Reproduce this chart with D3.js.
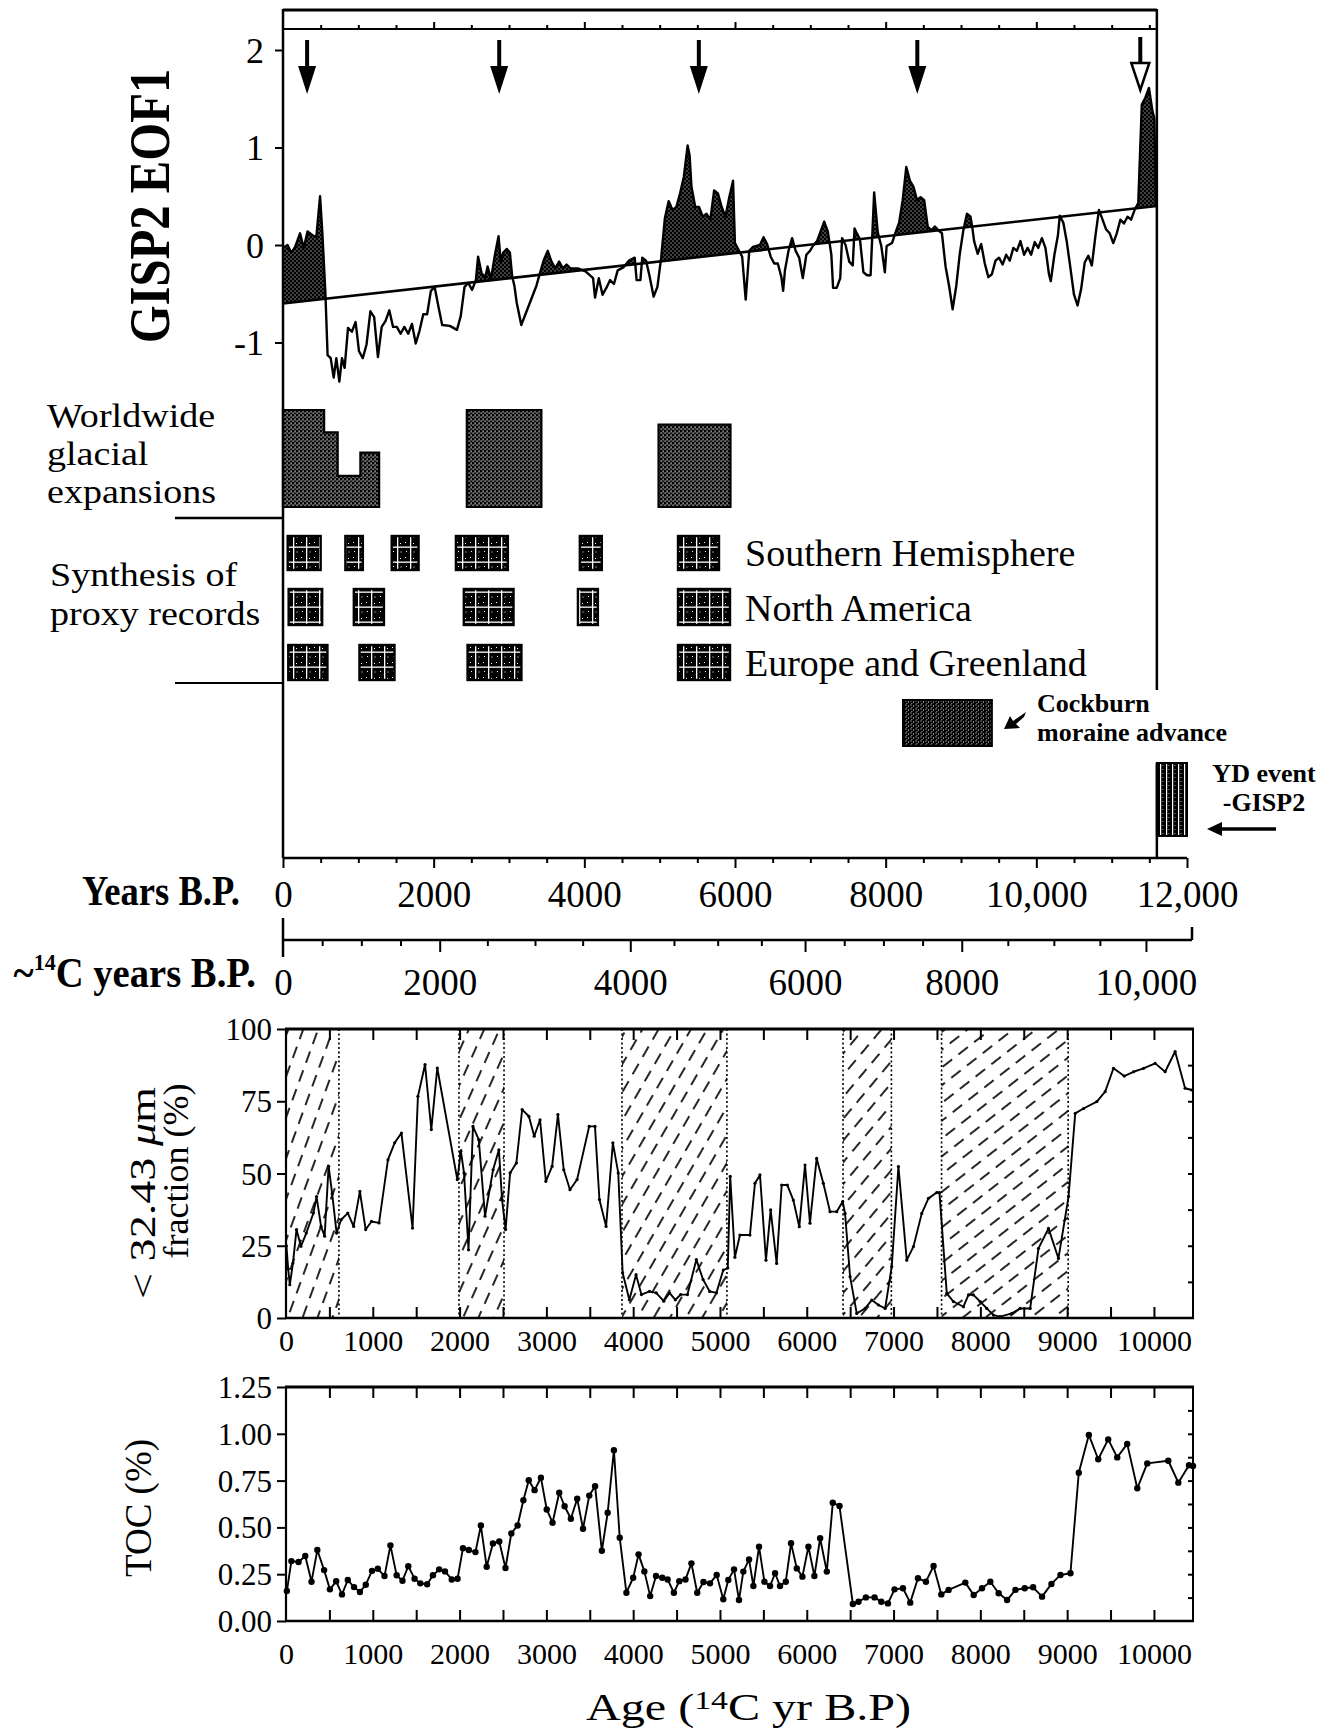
<!DOCTYPE html>
<html>
<head>
<meta charset="utf-8">
<script src="https://cdn.jsdelivr.net/npm/d3@7"></script>
<style>
  body { margin: 0; background: #fff; }
  svg { display: block; }
</style>
</head>
<body>
<svg id="chart" width="1336" height="1728"></svg>
<script>
// ---------------- data ----------------
// GISP2 EOF1 record: [calendar years B.P., EOF1 value]
const eof1Series = [
  [0,-0.03],[60,0.00],[110,-0.08],[161,-0.02],[226,0.12],[276,-0.03],[326,0.14],[392,0.10],[442,0.08],[492,0.50],
  [522,0.13],[562,-0.48],[592,-1.13],[633,-1.16],[673,-1.36],[708,-1.16],[748,-1.40],[783,-1.16],[818,-1.26],[863,-0.85],
  [914,-0.89],[964,-0.79],[1009,-1.09],[1059,-1.16],[1109,-1.02],[1160,-0.68],[1210,-0.74],[1260,-1.15],[1310,-0.84],[1360,-0.78],
  [1411,-0.67],[1461,-0.84],[1511,-0.84],[1561,-0.91],[1611,-0.84],[1662,-0.91],[1712,-0.81],[1762,-1.01],[1812,-0.88],[1862,-0.71],
  [1913,-0.71],[1963,-0.47],[2013,-0.43],[2063,-0.63],[2113,-0.82],[2214,-0.83],[2309,-0.87],[2359,-0.73],[2410,-0.43],[2460,-0.39],
  [2510,-0.46],[2560,-0.36],[2590,-0.12],[2636,-0.29],[2686,-0.33],[2716,-0.22],[2761,-0.35],[2811,-0.11],[2861,0.09],[2892,-0.18],
  [2922,-0.08],[2972,-0.04],[3012,-0.08],[3042,-0.32],[3072,-0.42],[3102,-0.59],[3163,-0.82],[3213,-0.72],[3263,-0.62],[3313,-0.52],
  [3363,-0.42],[3414,-0.28],[3464,-0.15],[3514,-0.06],[3564,-0.17],[3614,-0.24],[3665,-0.17],[3715,-0.24],[3765,-0.20],[3815,-0.24],
  [3916,-0.24],[4016,-0.27],[4116,-0.34],[4142,-0.54],[4192,-0.34],[4242,-0.51],[4292,-0.44],[4342,-0.36],[4393,-0.40],[4443,-0.26],
  [4518,-0.23],[4593,-0.16],[4669,-0.13],[4694,-0.36],[4744,-0.36],[4769,-0.13],[4819,-0.16],[4869,-0.33],[4920,-0.53],[4970,-0.43],
  [5020,-0.13],[5070,0.28],[5120,0.45],[5171,0.36],[5221,0.39],[5271,0.53],[5321,0.70],[5371,1.02],[5397,0.92],[5422,0.60],
  [5472,0.39],[5522,0.39],[5572,0.29],[5622,0.32],[5673,0.26],[5723,0.56],[5773,0.53],[5823,0.39],[5873,0.29],[5924,0.49],
  [5974,0.66],[5999,0.02],[6047,-0.05],[6095,-0.12],[6142,-0.56],[6189,-0.06],[6237,-0.02],[6331,0.00],[6379,0.08],[6426,0.01],
  [6474,-0.12],[6521,-0.19],[6568,-0.19],[6616,-0.33],[6639,-0.47],[6663,-0.26],[6710,-0.06],[6758,0.07],[6805,-0.06],[6852,-0.13],
  [6900,-0.34],[6947,-0.10],[6995,-0.06],[7042,0.00],[7089,0.04],[7137,0.14],[7184,0.24],[7232,0.14],[7279,-0.10],[7302,-0.44],
  [7350,-0.44],[7397,-0.34],[7421,0.07],[7468,0.00],[7516,-0.17],[7563,-0.21],[7587,0.17],[7610,0.13],[7658,0.06],[7705,-0.28],
  [7753,-0.31],[7800,-0.31],[7847,0.54],[7895,0.13],[7942,-0.01],[7989,-0.28],[8013,-0.01],[8084,0.02],[8131,0.13],[8179,0.23],
  [8226,0.46],[8274,0.80],[8321,0.66],[8368,0.60],[8416,0.46],[8463,0.49],[8511,0.46],[8558,0.19],[8605,0.15],[8653,0.19],
  [8700,0.15],[8747,0.12],[8795,-0.22],[8842,-0.42],[8889,-0.66],[8937,-0.42],[8984,-0.09],[9031,0.15],[9079,0.32],[9126,0.29],
  [9150,0.18],[9174,0.04],[9221,-0.09],[9268,0.01],[9316,-0.19],[9363,-0.33],[9410,-0.30],[9458,-0.16],[9505,-0.13],[9552,-0.20],
  [9600,-0.10],[9647,-0.16],[9695,-0.03],[9742,-0.06],[9789,0.04],[9837,-0.10],[9884,-0.03],[9931,-0.10],[9979,0.03],[10026,-0.03],
  [10074,0.07],[10121,-0.03],[10168,-0.30],[10192,-0.37],[10240,-0.10],[10287,0.10],[10311,0.30],[10358,0.23],[10405,0.03],[10453,-0.24],
  [10500,-0.51],[10547,-0.62],[10595,-0.45],[10642,-0.18],[10690,-0.11],[10737,-0.21],[10784,0.09],[10831,0.36],[10879,0.26],[10926,0.16],
  [10974,0.12],[11021,0.02],[11068,0.12],[11116,0.26],[11163,0.22],[11211,0.29],[11258,0.26],[11305,0.36],[11353,0.43],[11400,1.44],
  [11447,1.51],[11495,1.61],[11542,1.37],[11566,1.30],[11590,0.39]
];
// linear trend of EOF1: [year, value] at both ends
const trendEnds = [[0, -0.60], [11600, 0.40]];
const eofTicks = [-1, 0, 1, 2];

// event markers (calendar years B.P.)
const coolingArrowYears = [320, 2870, 5520, 8420];
const ydArrowYears = [11380];

// worldwide glacial expansions: [start, end, relative extent]
const glacialExpansions = [
  [0, 546, 1.00], [546, 726, 0.77], [726, 1027, 0.32], [1027, 1276, 0.56],
  [2440, 3430, 1.00],
  [4985, 5940, 0.85]
];
// synthesis of proxy records: [start, end] in calendar years B.P.
const southernHemisphere = [[62, 500], [828, 1060], [1443, 1800], [2295, 2985], [3940, 4232]];
const northAmerica = [[75, 520], [940, 1340], [2400, 3060], [3915, 4180]];
const europeGreenland = [[70, 590], [1015, 1480], [2450, 3165]];
const proxyNames = ["Southern Hemisphere", "North America", "Europe and Greenland"];
const cockburnAdvance = [8230, 9410];
const ydEventGisp2 = [11600, 12000];

// time axes
const calLabels = [0, 2000, 4000, 6000, 8000, 10000, 12000];
const c14Labels = [0, 2000, 4000, 6000, 8000, 10000];
const c14CalYears = [0, 2080, 4610, 6930, 9010, 11455];

// sediment records (14C yr B.P.)
const siltPeriods = [[0, 610], [1993, 2512], [3871, 5080], [6418, 6975], [7553, 9012]];
const fineFraction = [
  [5,25],[25,17],[44,11.5],[80,19],[121,30.6],[172,24.8],[234,29.4],[316,36.3],[352,42],[404,31.7],
  [445,28.3],[491,52.5],[532,43],[583,29.4],[635,34],[712,36.3],[779,31.7],[851,43.8],[918,30.6],[985,33.4],
  [1072,32.9],[1175,54.8],[1252,60.6],[1330,64],[1458,31.1],[1520,76.7],[1602,87.7],[1674,65.2],[1743,86.5],[1974,47.9],
  [2015,57.7],[2051,50.2],[2103,23.6],[2154,66.3],[2221,61.7],[2293,35.2],[2386,51.3],[2453,58.2],[2489,41],[2530,30.6],
  [2582,50.2],[2654,53.6],[2721,72.1],[2798,69.8],[2860,62.9],[2927,68.6],[2994,47.3],[3066,52.5],[3133,70.4],[3200,51.3],
  [3272,44.4],[3354,47.9],[3493,66.3],[3560,66.3],[3611,41],[3688,31.7],[3766,60.6],[3828,50.2],[3879,15.6],[3956,6.3],
  [4033,15],[4095,8.1],[4188,9.2],[4265,8.7],[4352,5.8],[4419,8.7],[4486,6.3],[4547,8.1],[4625,8.1],[4728,20.2],
  [4805,13.3],[4882,9.2],[4959,8.7],[5038,16.6],[5090,17.3],[5118,49],[5172,21],[5230,28.7],[5345,28.7],[5403,46.6],
  [5461,49.5],[5530,20],[5584,37.4],[5653,18.9],[5711,46],[5776,46],[5845,40.8],[5914,31.6],[5980,52.9],[6037,32.8],
  [6114,55.2],[6191,46.6],[6268,36.8],[6345,36.8],[6414,40.3],[6441,36.2],[6499,14.3],[6576,1.6],[6672,3.3],[6749,6.2],
  [6826,4.5],[6903,3.3],[6979,17.8],[7056,52.4],[7152,20],[7229,24.7],[7325,36.2],[7402,41.4],[7498,43.4],[7529,43.4],
  [7613,8.5],[7690,5.7],[7805,3.9],[7863,8],[7920,8],[7997,5.7],[8074,3.3],[8151,1],[8228,0.5],[8363,1.6],
  [8459,3.3],[8574,3.3],[8670,24.1],[8785,31],[8900,20.6],[9016,42],[9093,70.8],[9189,72.5],[9342,74.9],[9438,78.3],
  [9534,86.4],[9657,83.7],[9765,85.2],[9880,86.4],[10014,88.1],[10129,85.2],[10244,92.2],[10359,79.5],[10436,78.9]
];
const tocSeries = [
  [10,0.16],[62,0.32],[145,0.315],[222,0.347],[294,0.21],[361,0.379],[439,0.272],[506,0.169],[578,0.212],[645,0.142],
  [712,0.219],[784,0.181],[852,0.155],[919,0.194],[991,0.268],[1058,0.279],[1135,0.24],[1203,0.404],[1275,0.244],[1342,0.215],
  [1409,0.293],[1481,0.226],[1548,0.201],[1626,0.196],[1693,0.244],[1765,0.276],[1832,0.265],[1910,0.222],[1977,0.226],[2039,0.389],
  [2106,0.379],[2183,0.368],[2245,0.51],[2312,0.29],[2384,0.414],[2457,0.425],[2529,0.283],[2596,0.468],[2668,0.51],[2735,0.645],
  [2797,0.752],[2864,0.699],[2937,0.765],[3004,0.596],[3071,0.525],[3148,0.685],[3210,0.613],[3282,0.546],[3355,0.653],[3422,0.493],
  [3494,0.67],[3561,0.72],[3639,0.375],[3706,0.578],[3778,0.912],[3845,0.445],[3922,0.151],[4000,0.231],[4062,0.356],[4129,0.265],
  [4196,0.133],[4263,0.24],[4335,0.231],[4397,0.222],[4469,0.151],[4531,0.213],[4603,0.222],[4671,0.308],[4738,0.151],[4810,0.208],
  [4885,0.201],[4962,0.246],[5038,0.116],[5096,0.219],[5162,0.276],[5219,0.112],[5269,0.264],[5335,0.329],[5385,0.187],[5450,0.397],
  [5512,0.21],[5577,0.187],[5635,0.255],[5692,0.187],[5758,0.21],[5819,0.415],[5885,0.281],[5950,0.237],[6019,0.397],[6088,0.24],
  [6154,0.442],[6231,0.264],[6300,0.632],[6377,0.614],[6531,0.091],[6596,0.103],[6681,0.126],[6781,0.126],[6858,0.103],[6935,0.094],
  [7011,0.169],[7108,0.175],[7192,0.098],[7281,0.228],[7373,0.21],[7461,0.294],[7550,0.142],[7634,0.166],[7827,0.205],[7923,0.139],
  [8019,0.175],[8115,0.21],[8211,0.148],[8308,0.112],[8404,0.166],[8511,0.175],[8608,0.18],[8711,0.13],[8819,0.198],[8923,0.246],
  [9038,0.255],[9134,0.792],[9250,0.994],[9358,0.864],[9473,0.97],[9577,0.874],[9692,0.946],[9808,0.709],[9923,0.842],[10165,0.856],
  [10281,0.739],[10404,0.832],[10450,0.828]
];
const fracTicks = [0, 25, 50, 75, 100];
const tocTicks = [0, 0.25, 0.5, 0.75, 1.0, 1.25];
const ageLabels = [0, 1000, 2000, 3000, 4000, 5000, 6000, 7000, 8000, 9000, 10000];

// ---------------- drawing ----------------
const SERIF = "'Liberation Serif','Times New Roman',Times,serif";
const svg = d3.select("#chart");
svg.append("rect").attr("width", 1336).attr("height", 1728).attr("fill", "#fff");

const xCal = d3.scaleLinear().domain([0, 12000]).range([283, 1187]);
const yEof = d3.scaleLinear().domain([-1, 2]).range([342.5, 50]);
const xC14 = d3.scaleLinear().domain(c14Labels).range(c14CalYears.map(xCal));
const xAge = d3.scaleLinear().domain([0, 10450]).range([286, 1193]);
const yFrac = d3.scaleLinear().domain([0, 100]).range([1318, 1029]);
const yToc = d3.scaleLinear().domain([0, 1.25]).range([1621, 1387]);
const trend = d3.scaleLinear().domain(trendEnds.map(d => d[0])).range(trendEnds.map(d => d[1]));

// fill patterns
const defs = svg.append("defs");
function tile(id, w, h, marks) {
  const p = defs.append("pattern").attr("id", id).attr("patternUnits", "userSpaceOnUse")
    .attr("width", w).attr("height", h);
  p.append("rect").attr("width", w).attr("height", h).attr("fill", "#000");
  marks.forEach(([x, y, mw, mh]) => p.append("rect").attr("x", x).attr("y", y)
    .attr("width", mw).attr("height", mh).attr("fill", "#fff"));
}
tile("stipple", 4, 4, [[0.5, 0.5, 1, 1], [2.5, 2.5, 1, 1]]);
tile("glacial", 4, 4, [[0.5, 0.5, 1.2, 1.2], [2.5, 2.5, 1.2, 1.2], [2.6, 0.4, 0.8, 0.8]]);
tile("proxy", 13, 15, [[0, 6.5, 13, 1.3], [7, 0, 1.3, 15], [2, 2, 1, 1], [3, 11, 1, 1], [10, 3, 1, 1], [10.5, 11.5, 1, 1]]);
tile("cockburn", 5, 4, [[0.5, 0.5, 1, 1], [3, 1.5, 1, 1], [1.5, 3, 0.8, 0.8]]);
tile("ydStripes", 6, 4, [[2, 0, 1.2, 4], [4.5, 1, 0.8, 0.8]]);

function line(g, x1, y1, x2, y2, w, extra) {
  const l = g.append("line").attr("x1", x1).attr("y1", y1).attr("x2", x2).attr("y2", y2)
    .attr("stroke", "#000").attr("stroke-width", w);
  if (extra) extra(l);
  return l;
}
function styleAxis(g, size) {
  g.attr("font-family", SERIF).attr("font-size", size);
  g.select(".domain").remove();
  g.selectAll(".tick line").attr("stroke", "#000").attr("stroke-width", 2);
  g.selectAll(".tick text").attr("fill", "#000");
  return g;
}
function txt(g, x, y, s, size, opts = {}) {
  return g.append("text").attr("x", x).attr("y", y).text(s)
    .attr("font-family", SERIF).attr("font-size", size)
    .attr("font-weight", opts.bold ? "bold" : null)
    .attr("text-anchor", opts.anchor || "start").attr("fill", "#000");
}
// text drawn with a horizontal stretch
function wideTxt(g, x, y, s, size, sx) {
  return g.append("g").attr("transform", `translate(${x},${y}) scale(${sx},1)`)
    .append("text").text(s).attr("font-family", SERIF).attr("font-size", size).attr("fill", "#000");
}

// ===== upper panel: GISP2 EOF1 =====
const upper = svg.append("g");

// insert trend crossings so the shaded area follows the curve exactly
function withCrossings(series) {
  const out = [];
  series.forEach((p, i) => {
    if (i > 0) {
      const q = series[i - 1];
      const d0 = q[1] - trend(q[0]), d1 = p[1] - trend(p[0]);
      if (d0 * d1 < 0) {
        const t = d0 / (d0 - d1);
        const xc = q[0] + t * (p[0] - q[0]);
        out.push([xc, trend(xc)]);
      }
    }
    out.push(p);
  });
  return out;
}
const eofDense = withCrossings(eof1Series);
const aboveTrend = d3.area()
  .x(d => xCal(d[0]))
  .y0(d => yEof(trend(d[0])))
  .y1(d => yEof(Math.max(d[1], trend(d[0]))));
upper.append("path").datum(eofDense).attr("d", aboveTrend).attr("fill", "url(#stipple)");

upper.append("path").datum(trendEnds)
  .attr("d", d3.line().x(d => xCal(d[0])).y(d => yEof(d[1])))
  .attr("fill", "none").attr("stroke", "#000").attr("stroke-width", 2.6);
upper.append("path").datum(eof1Series)
  .attr("d", d3.line().x(d => xCal(d[0])).y(d => yEof(d[1])))
  .attr("fill", "none").attr("stroke", "#000").attr("stroke-width", 2.4).attr("stroke-linejoin", "round");

// frame
const xRight = xCal(ydEventGisp2[0]);
line(upper, 283, 10, xRight, 10, 3);
line(upper, 283, 29, xRight, 29, 2);
line(upper, 283, 9, 283, 858, 2.5);
line(upper, xRight, 9, xRight, 690, 2.5);

// ticks on the upper strip
const topStrip = upper.append("g").attr("transform", "translate(0,29)");
topStrip.call(d3.axisTop(xCal).tickValues(d3.range(500, 11600, 500).filter(d => d % 2000)).tickSize(4).tickFormat(""));
styleAxis(topStrip, 10);
const topStrip2 = upper.append("g").attr("transform", "translate(0,29)");
topStrip2.call(d3.axisTop(xCal).tickValues(d3.range(2000, 11600, 2000)).tickSize(7).tickFormat(""));
styleAxis(topStrip2, 10);

// y axis
const yAx = upper.append("g").attr("transform", "translate(283,0)")
  .call(d3.axisLeft(yEof).tickValues(eofTicks).tickSize(8).tickPadding(11).tickFormat(d => String(d)));
styleAxis(yAx, 36);
yAx.selectAll(".tick text").attr("dy", "0.34em");

upper.append("g").attr("transform", "translate(169,206) rotate(-90) scale(0.87,1)")
  .append("text").text("GISP2 EOF1").attr("text-anchor", "middle")
  .attr("font-family", SERIF).attr("font-size", 56).attr("font-weight", "bold").attr("fill", "#000");

// arrows marking cooling events
coolingArrowYears.forEach(yr => {
  const x = xCal(yr);
  line(upper, x, 40, x, 70, 4);
  upper.append("path").attr("d", `M${x - 9},66 L${x + 9},66 L${x},94 Z`).attr("fill", "#000");
});
ydArrowYears.forEach(yr => {
  const x = xCal(yr);
  line(upper, x, 37, x, 63, 4);
  upper.append("path").attr("d", `M${x - 9},63 L${x + 9},63 L${x},90 Z`)
    .attr("fill", "#fff").attr("stroke", "#000").attr("stroke-width", 2.5);
});

// ===== glacial expansions =====
const glacialBottom = 507, glacialHeight = 97;
const glacialBlocks = [];
glacialExpansions.forEach(s => {
  const last = glacialBlocks[glacialBlocks.length - 1];
  if (last && last[last.length - 1][1] === s[0]) last.push(s); else glacialBlocks.push([s]);
});
glacialBlocks.forEach(block => {
  let d = `M${xCal(block[0][0])},${glacialBottom}`;
  block.forEach(s => {
    const yt = glacialBottom - glacialHeight * s[2];
    d += ` L${xCal(s[0])},${yt} L${xCal(s[1])},${yt}`;
  });
  d += ` L${xCal(block[block.length - 1][1])},${glacialBottom} Z`;
  upper.append("path").attr("d", d).attr("fill", "url(#glacial)").attr("stroke", "#000").attr("stroke-width", 2.2);
});

["Worldwide", "glacial", "expansions"].forEach((s, i) => wideTxt(upper, 47, [427, 465, 503][i], s, 34, 1.12));
line(upper, 175, 518, 283, 518, 2.5);
["Synthesis of", "proxy records"].forEach((s, i) => wideTxt(upper, 50, [586, 625][i], s, 34, 1.12));
line(upper, 175, 683, 283, 683, 2);

// ===== proxy records =====
const proxyRows = [southernHemisphere, northAmerica, europeGreenland];
const rowTop = [536, 589, 645], rowBottom = [570, 625, 680], swatchW = [41, 52, 52];
proxyRows.forEach((spans, r) => {
  spans.forEach(([a, b]) => {
    upper.append("rect").attr("x", xCal(a)).attr("y", rowTop[r])
      .attr("width", xCal(b) - xCal(a)).attr("height", rowBottom[r] - rowTop[r])
      .attr("fill", "url(#proxy)").attr("stroke", "#000").attr("stroke-width", 2.4);
  });
  upper.append("rect").attr("x", 678).attr("y", rowTop[r]).attr("width", swatchW[r])
    .attr("height", rowBottom[r] - rowTop[r])
    .attr("fill", "url(#proxy)").attr("stroke", "#000").attr("stroke-width", 2.4);
  txt(upper, 745, rowBottom[r] - 4, proxyNames[r], 38);
});

// Cockburn moraine advance
upper.append("rect").attr("x", xCal(cockburnAdvance[0])).attr("y", 700)
  .attr("width", xCal(cockburnAdvance[1]) - xCal(cockburnAdvance[0])).attr("height", 46)
  .attr("fill", "url(#cockburn)").attr("stroke", "#000").attr("stroke-width", 2);
upper.append("path").attr("d", "M1004,729 L1010,716 L1013,721 L1026,712 L1024,717 L1016,724 L1020,728 Z").attr("fill", "#000");
txt(upper, 1037, 712, "Cockburn", 26, { bold: true });
txt(upper, 1037, 741, "moraine advance", 26, { bold: true });

// Younger Dryas (GISP2)
const ydX0 = xCal(ydEventGisp2[0]), ydX1 = xCal(ydEventGisp2[1]);
upper.append("rect").attr("x", ydX0).attr("y", 763).attr("width", ydX1 - ydX0).attr("height", 73)
  .attr("fill", "url(#ydStripes)").attr("stroke", "#000").attr("stroke-width", 2);
line(upper, ydX0, 763, ydX0, 858, 2.5);
txt(upper, 1264, 782, "YD event", 26, { bold: true, anchor: "middle" });
txt(upper, 1264, 811, "-GISP2", 26, { bold: true, anchor: "middle" });
line(upper, 1218, 829, 1276, 829, 3.5);
upper.append("path").attr("d", "M1207,829 L1222,822 L1222,836 Z").attr("fill", "#000");

// ===== calendar axis =====
line(upper, 283, 858, xCal(12000), 858, 2.5);
const calMinor = upper.append("g").attr("transform", "translate(0,858)")
  .call(d3.axisBottom(xCal).tickValues(d3.range(500, 12000, 500).filter(d => d % 2000)).tickSize(5).tickFormat(""));
styleAxis(calMinor, 10);
const calMajor = upper.append("g").attr("transform", "translate(0,858)")
  .call(d3.axisBottom(xCal).tickValues(calLabels).tickSize(10).tickPadding(13)
    .tickFormat(d => d >= 10000 ? d3.format(",")(d) : String(d)));
styleAxis(calMajor, 37);
upper.append("g").attr("transform", "translate(240,905) scale(0.87,1)")
  .append("text").text("Years B.P.").attr("text-anchor", "end")
  .attr("font-family", SERIF).attr("font-size", 42).attr("font-weight", "bold").attr("fill", "#000");

// ===== radiocarbon axis =====
const c14Y = 940;
line(upper, 283, c14Y, xCal(12000) + 5, c14Y, 2.5);
line(upper, 283, 918, 283, 957, 2.5);
line(upper, xCal(12000) + 5, 927, xCal(12000) + 5, c14Y, 2.5);
const c14Minor = upper.append("g").attr("transform", `translate(0,${c14Y})`)
  .call(d3.axisBottom(xC14).tickValues(d3.range(500, 10000, 500).filter(d => d % 2000)).tickSize(6).tickFormat(""));
styleAxis(c14Minor, 10);
const c14Major = upper.append("g").attr("transform", `translate(0,${c14Y})`)
  .call(d3.axisBottom(xC14).tickValues(c14Labels).tickSize(12).tickPadding(17)
    .tickFormat(d => d >= 10000 ? d3.format(",")(d) : String(d)));
styleAxis(c14Major, 37);
c14Major.select(".tick line").remove();
const c14Title = upper.append("g").attr("transform", "translate(256,987) scale(0.92,1)")
  .append("text").attr("text-anchor", "end")
  .attr("font-family", SERIF).attr("font-size", 42).attr("font-weight", "bold").attr("fill", "#000");
c14Title.append("tspan").text("~");
c14Title.append("tspan").text("14").attr("font-size", 24).attr("dy", -17);
c14Title.append("tspan").text("C years B.P.").attr("dy", 17);

// ===== lower panels =====
function panelFrame(g, yScale, yTickVals, fmt, minorStep) {
  const [y0, y1] = yScale.range();
  const xl = xAge.range()[0], xr = xAge.range()[1];
  // inward ticks along top and bottom
  const tv = d3.range(500, 10450, 500);
  const tb = g.append("g").attr("transform", `translate(0,${y0})`)
    .call(d3.axisBottom(xAge).tickValues(tv).tickSize(-11).tickFormat(""));
  styleAxis(tb, 10);
  const tt = g.append("g").attr("transform", `translate(0,${y1})`)
    .call(d3.axisTop(xAge).tickValues(tv).tickSize(-11).tickFormat(""));
  styleAxis(tt, 10);
  // right-side inward minor ticks
  const yd = yScale.domain();
  const rt = g.append("g").attr("transform", `translate(${xr},0)`)
    .call(d3.axisRight(yScale).tickValues(d3.range(yd[0] + minorStep, yd[1], minorStep)).tickSize(-5).tickFormat(""));
  styleAxis(rt, 10);
  // left axis
  const la = g.append("g").attr("transform", `translate(${xl},0)`)
    .call(d3.axisLeft(yScale).tickValues(yTickVals).tickSize(9).tickPadding(5).tickFormat(fmt));
  styleAxis(la, 31);
  la.selectAll(".tick text").attr("dy", "0.34em");
  // frame lines
  line(g, xl - 1, y1, xr + 1, y1, 3);
  line(g, xl - 1, y0, xr + 1, y0, 2.5);
  line(g, xl, y1, xl, y0, 2.2);
  line(g, xr, y1, xr, y0, 2);
}

// --- fine fraction panel ---
const mid = svg.append("g");
const hatchAngles = [70, 66, 60, 50, 38];
siltPeriods.forEach(([a, b], i) => {
  const pat = defs.append("pattern").attr("id", "hatch" + i).attr("patternUnits", "userSpaceOnUse")
    .attr("width", 14).attr("height", 20).attr("patternTransform", `rotate(${90 - hatchAngles[i]})`);
  pat.append("line").attr("x1", 7).attr("x2", 7).attr("y1", 2).attr("y2", 14)
    .attr("stroke", "#000").attr("stroke-width", 1.7);
  mid.append("rect").attr("x", xAge(a)).attr("y", yFrac(100))
    .attr("width", xAge(b) - xAge(a)).attr("height", yFrac(0) - yFrac(100))
    .attr("fill", `url(#hatch${i})`);
  [a, b].forEach(v => {
    if (v > 0) line(mid, xAge(v), yFrac(100), xAge(v), yFrac(0), 1.6, l => l.attr("stroke-dasharray", "2,2.5"));
  });
});
mid.append("path").datum(fineFraction)
  .attr("d", d3.line().x(d => xAge(d[0])).y(d => yFrac(d[1])))
  .attr("fill", "none").attr("stroke", "#000").attr("stroke-width", 1.9).attr("stroke-linejoin", "round");
mid.selectAll("circle").data(fineFraction).join("circle")
  .attr("cx", d => xAge(d[0])).attr("cy", d => yFrac(d[1])).attr("r", 1.6).attr("fill", "#000");
panelFrame(mid, yFrac, fracTicks, d => String(d), 12.5);
const midX = mid.append("g").attr("transform", `translate(0,${yFrac(0)})`)
  .call(d3.axisBottom(xAge).tickValues(ageLabels).tickSize(0).tickPadding(12).tickFormat(d => String(d)));
styleAxis(midX, 30);

const fracTitle1 = mid.append("g").attr("transform", "translate(155,1193) rotate(-90)")
  .append("text").attr("text-anchor", "middle").attr("font-family", SERIF).attr("font-size", 36)
  .attr("textLength", 212).attr("lengthAdjust", "spacingAndGlyphs").attr("fill", "#000");
fracTitle1.append("tspan").text("< 32.43 ");
fracTitle1.append("tspan").text("μ").attr("font-style", "italic");
fracTitle1.append("tspan").text("m");
mid.append("g").attr("transform", "translate(188,1171) rotate(-90)")
  .append("text").text("fraction (%)").attr("text-anchor", "middle")
  .attr("font-family", SERIF).attr("font-size", 36).attr("fill", "#000");

// --- TOC panel ---
const bot = svg.append("g");
bot.append("path").datum(tocSeries)
  .attr("d", d3.line().x(d => xAge(d[0])).y(d => yToc(d[1])))
  .attr("fill", "none").attr("stroke", "#000").attr("stroke-width", 1.9).attr("stroke-linejoin", "round");
bot.selectAll("circle").data(tocSeries).join("circle")
  .attr("cx", d => xAge(d[0])).attr("cy", d => yToc(d[1])).attr("r", 3.2).attr("fill", "#000");
panelFrame(bot, yToc, tocTicks, d3.format(".2f"), 0.125);
const botX = bot.append("g").attr("transform", `translate(0,${yToc(0)})`)
  .call(d3.axisBottom(xAge).tickValues(ageLabels).tickSize(0).tickPadding(22).tickFormat(d => String(d)));
styleAxis(botX, 30);

bot.append("g").attr("transform", "translate(151,1508) rotate(-90)")
  .append("text").text("TOC (%)").attr("text-anchor", "middle")
  .attr("font-family", SERIF).attr("font-size", 37).attr("fill", "#000");
const ageTitle = bot.append("g").attr("transform", "translate(586,1720) scale(1.3,1)")
  .append("text").attr("font-family", SERIF).attr("font-size", 37).attr("fill", "#000");
ageTitle.append("tspan").text("Age (");
ageTitle.append("tspan").text("14").attr("font-size", 26).attr("dy", -11);
ageTitle.append("tspan").text("C yr B.P)").attr("dy", 11);
</script>
</body>
</html>
